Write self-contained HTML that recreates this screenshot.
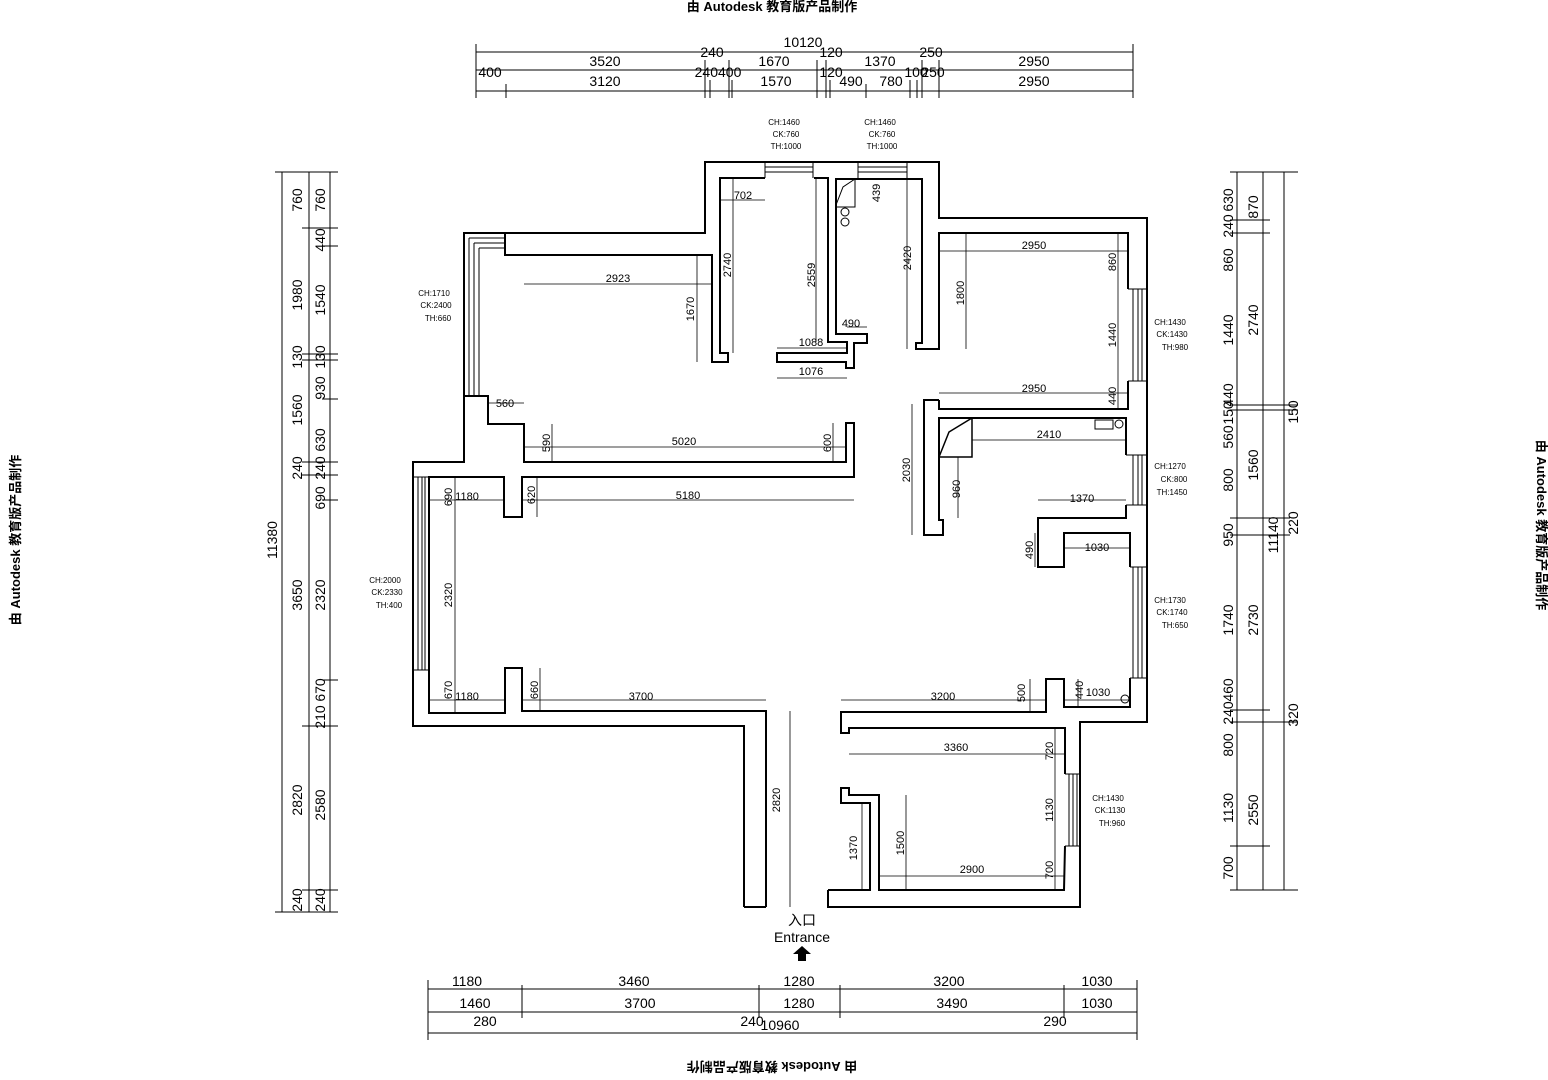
<!DOCTYPE html>
<html><head><meta charset="utf-8"><style>
html,body{margin:0;padding:0;background:#fff}
svg{display:block}
text{font-family:"Liberation Sans Narrow","Liberation Sans",sans-serif;fill:#000}
.d{font-size:14px}
.s{font-size:11px}
.t{font-size:8px;font-family:"Liberation Serif",serif}
.w{font-size:13px;font-weight:bold;font-family:"Liberation Sans","Noto Sans CJK SC",sans-serif}
</style></head><body>
<svg width="1548" height="1080" viewBox="0 0 1548 1080" xmlns="http://www.w3.org/2000/svg">
<rect width="1548" height="1080" fill="#fff"/>
<!-- watermarks -->
<text class="w" x="772" y="11" text-anchor="middle">由 Autodesk 教育版产品制作</text>
<text class="w" transform="translate(20,540) rotate(-90)" text-anchor="middle">由 Autodesk 教育版产品制作</text>
<text class="w" transform="translate(1537,525) rotate(90)" text-anchor="middle">由 Autodesk 教育版产品制作</text>
<text class="w" transform="translate(772,1062) rotate(180)" text-anchor="middle">由 Autodesk 教育版产品制作</text>

<g fill="none" stroke="#000" stroke-width="2">
<!-- outer boundary -->
<path d="M744,907 L744,726 L413,726 L413,462 L464,462 L464,233 L705,233 L705,162 L939,162 L939,218 L1147,218 L1147,722 L1080,722 L1080,907 L828,907 L828,890"/>
<path d="M744,907 L766,907"/>
<!-- living inner -->
<path d="M766,907 L766,711 L522,711 L522,668 L505,668 L505,713 L429,713 L429,477 L504,477 L504,517 L522,517 L522,477 L854,477 L854,423 L846,423 L846,462 L524,462 L524,424 L488,424 L488,396 L464,396"/>
<!-- top-left bedroom -->
<path d="M505,233 L505,255 L712,255 L712,362 L728,362 L728,353 L720,353 L720,178 L765,178"/>
<!-- bathroom -->
<path d="M814,178 L828,178 L828,342 L847,342 L847,353 L777,353 L777,362 L846,362 L846,368 L854,368 L854,343 L867,343 L867,334 L836,334 L836,179 L858,179"/>
<path d="M858,179 L922,179 L922,343 L916,343 L916,349 L939,349 L939,233 L1128,233 L1128,289"/>
<!-- right room bottom wall / kitchen -->
<path d="M1128,381 L1128,409 L939,409 L939,400"/>
<path d="M939,400 L924,400 L924,535 L943,535 L943,520 L939,520 L939,418 L1126,418 L1126,455"/>
<path d="M1126,505 L1126,518 L1038,518 L1038,567 L1064,567 L1064,533 L1130,533 L1130,567"/>
<path d="M1130,678 L1130,707 L1064,707 L1064,679 L1046,679 L1046,712 L841,712 L841,733 L849,733 L849,728 L1065,728 L1065,774"/>
<path d="M1065,846 L1064,890 L879,890 L879,795 L849,795 L849,788 L841,788 L841,803 L870,803 L870,890 L828,890"/>
</g>
<!-- windows -->
<g fill="none" stroke="#000" stroke-width="1">
<path d="M765,162 V178 M813,162 V178 M765,167 H813 M765,172 H813"/>
<path d="M858,162 V178 M907,162 V178 M858,167 H907 M858,172 H907"/>
<path d="M469,238 H505 M474,243 H505 M469,238 V396 M474,243 V396 M479,248 V396 M479,248 H505"/>
<path d="M413,477 H429 M413,670 H429 M418,477 V670 M422,477 V670 M425,477 V670"/>
<path d="M1128,289 H1147 M1128,381 H1147 M1133,289 V381 M1138,289 V381 M1142,289 V381"/>
<path d="M1126,455 H1147 M1126,505 H1147 M1133,455 V505 M1138,455 V505 M1142,455 V505"/>
<path d="M1130,567 H1147 M1130,678 H1147 M1133,567 V678 M1138,567 V678 M1142,567 V678"/>
<path d="M1065,774 H1080 M1065,846 H1080 M1069,774 V846 M1073,774 V846 M1077,774 V846"/>
<!-- fixtures -->
<path d="M836,179 H855 V207 H836 Z M836,205 L843,187 L855,179"/>
<circle cx="845" cy="212" r="4"/><circle cx="845" cy="222" r="4"/>
<path d="M939,418 H972 V457 H939 Z M939,457 L949,432 L972,418" stroke-width="1.5"/>
<rect x="1095" y="420" width="18" height="9"/><circle cx="1119" cy="424" r="4"/>
<circle cx="1125" cy="699" r="4"/>
</g>
<!-- inner dimension lines -->
<g stroke="#000" stroke-width="0.8" fill="none">
<path d="M524,284 H712 M697,255 V362 M733,178 V353 M720,200 H765 M816,178 V342 M907,179 V349 M847,327 H867 M777,348 H847 M777,378 H847"/>
<path d="M939,251 H1128 M966,233 V349 M1118,233 V382 M939,393 H1128 M1118,382 V409"/>
<path d="M972,440 H1126 M958,457 V518 M912,404 V535 M1038,500 H1126 M1035,533 V567 M1064,548 H1130"/>
<path d="M524,447 V462 M524,447 H846 M552,424 V462 M833,423 V462 M488,403 H524"/>
<path d="M522,500 H854 M537,477 V517 M429,500 H504 M455,477 V520 M455,520 V713 M455,713 V668 M429,700 H505 M522,700 H766 M540,668 V711 M790,711 V907"/>
<path d="M841,700 H1046 M1030,679 V712 M1064,700 H1130 M1078,679 V707 M849,754 H1065 M1055,728 V774 M1055,774 V846 M1055,846 V890 M879,876 H1064 M906,795 V890 M862,803 V890"/>
</g>
<!-- inner dim labels -->
<g class="s">
<text x="743" y="199" text-anchor="middle">702</text>
<text x="618" y="282" text-anchor="middle">2923</text>
<text transform="translate(694,309) rotate(-90)" text-anchor="middle">1670</text>
<text transform="translate(731,265) rotate(-90)" text-anchor="middle">2740</text>
<text transform="translate(815,275) rotate(-90)" text-anchor="middle">2559</text>
<text transform="translate(880,193) rotate(-90)" text-anchor="middle">439</text>
<text transform="translate(911,258) rotate(-90)" text-anchor="middle">2420</text>
<text x="851" y="327" text-anchor="middle">490</text>
<text x="811" y="346" text-anchor="middle">1088</text>
<text x="811" y="375" text-anchor="middle">1076</text>
<text x="1034" y="249" text-anchor="middle">2950</text>
<text transform="translate(964,293) rotate(-90)" text-anchor="middle">1800</text>
<text transform="translate(1116,262) rotate(-90)" text-anchor="middle">860</text>
<text transform="translate(1116,335) rotate(-90)" text-anchor="middle">1440</text>
<text x="1034" y="392" text-anchor="middle">2950</text>
<text transform="translate(1116,396) rotate(-90)" text-anchor="middle">440</text>
<text x="1049" y="438" text-anchor="middle">2410</text>
<text transform="translate(910,470) rotate(-90)" text-anchor="middle">2030</text>
<text transform="translate(960,489) rotate(-90)" text-anchor="middle">960</text>
<text x="1082" y="502" text-anchor="middle">1370</text>
<text transform="translate(1033,550) rotate(-90)" text-anchor="middle">490</text>
<text x="1097" y="551" text-anchor="middle">1030</text>
<text x="505" y="407" text-anchor="middle">560</text>
<text transform="translate(550,443) rotate(-90)" text-anchor="middle">590</text>
<text x="684" y="445" text-anchor="middle">5020</text>
<text transform="translate(831,443) rotate(-90)" text-anchor="middle">600</text>
<text x="467" y="500" text-anchor="middle">1180</text>
<text transform="translate(452,497) rotate(-90)" text-anchor="middle">690</text>
<text transform="translate(535,495) rotate(-90)" text-anchor="middle">620</text>
<text x="688" y="499" text-anchor="middle">5180</text>
<text transform="translate(452,595) rotate(-90)" text-anchor="middle">2320</text>
<text transform="translate(452,690) rotate(-90)" text-anchor="middle">670</text>
<text x="467" y="700" text-anchor="middle">1180</text>
<text transform="translate(538,690) rotate(-90)" text-anchor="middle">660</text>
<text x="641" y="700" text-anchor="middle">3700</text>
<text transform="translate(780,800) rotate(-90)" text-anchor="middle">2820</text>
<text x="943" y="700" text-anchor="middle">3200</text>
<text transform="translate(1025,693) rotate(-90)" text-anchor="middle">500</text>
<text transform="translate(1083,690) rotate(-90)" text-anchor="middle">440</text>
<text x="1098" y="696" text-anchor="middle">1030</text>
<text x="956" y="751" text-anchor="middle">3360</text>
<text transform="translate(1053,751) rotate(-90)" text-anchor="middle">720</text>
<text transform="translate(1053,810) rotate(-90)" text-anchor="middle">1130</text>
<text transform="translate(1053,870) rotate(-90)" text-anchor="middle">700</text>
<text x="972" y="873" text-anchor="middle">2900</text>
<text transform="translate(904,843) rotate(-90)" text-anchor="middle">1500</text>
<text transform="translate(857,848) rotate(-90)" text-anchor="middle">1370</text>
</g>
<!-- window annotations -->
<g class="t" text-anchor="middle">
<text x="784" y="125">CH:1460</text><text x="786" y="137">CK:760</text><text x="786" y="149">TH:1000</text>
<text x="880" y="125">CH:1460</text><text x="882" y="137">CK:760</text><text x="882" y="149">TH:1000</text>
<text x="434" y="296">CH:1710</text><text x="436" y="308">CK:2400</text><text x="438" y="321">TH:660</text>
<text x="1170" y="325">CH:1430</text><text x="1172" y="337">CK:1430</text><text x="1175" y="350">TH:980</text>
<text x="1170" y="469">CH:1270</text><text x="1174" y="482">CK:800</text><text x="1172" y="495">TH:1450</text>
<text x="1170" y="603">CH:1730</text><text x="1172" y="615">CK:1740</text><text x="1175" y="628">TH:650</text>
<text x="1108" y="801">CH:1430</text><text x="1110" y="813">CK:1130</text><text x="1112" y="826">TH:960</text>
<text x="385" y="583">CH:2000</text><text x="387" y="595">CK:2330</text><text x="389" y="608">TH:400</text>
</g>
<!-- entrance -->
<text x="802" y="925" text-anchor="middle" style="font-size:14px;font-family:'Liberation Sans','Noto Sans CJK SC',sans-serif">入口</text>
<text x="802" y="942" text-anchor="middle" style="font-size:14px;font-family:'Liberation Sans',sans-serif">Entrance</text>
<path d="M802,946 L811,954 L806,954 L806,961 L798,961 L798,954 L793,954 Z" fill="#000"/>

<!-- outer dimension chains -->
<g stroke="#000" stroke-width="1" fill="none">
<path d="M476,52 H1133 M476,70 H1133 M476,91 H1133"/>
<path d="M476,44 V98 M1133,44 V98 M705,60 V98 M729,60 V98 M817,60 V98 M826,60 V98 M922,60 V98 M939,60 V98 M506,84 V98 M710,80 V98 M732,80 V98 M830,80 V98 M866,84 V98 M910,80 V98 M917,80 V98"/>
<path d="M282,172 V912 M309,172 V912 M330,172 V912 M275,172 H338 M275,912 H338 M302,228 H338 M302,354 H338 M302,360 H338 M302,462 H338 M302,475 H338 M302,726 H338 M302,890 H338 M322,246 H338 M322,399 H338 M322,500 H338 M322,680 H338"/>
<path d="M1237,172 V890 M1263,172 V890 M1284,172 V890 M1230,172 H1298 M1230,890 H1298 M1230,220 H1270 M1230,233 H1270 M1230,405 H1298 M1230,410 H1298 M1230,518 H1290 M1230,535 H1290 M1230,722 H1298 M1230,710 H1270 M1230,846 H1270"/>
<path d="M428,989 H1137 M428,1012 H1137 M428,1033 H1137 M428,980 V1040 M1137,980 V1040 M522,985 V1018 M759,985 V1018 M840,985 V1018 M1064,985 V1018"/>
</g>
<g class="d" text-anchor="middle">
<text x="803" y="47">10120</text>
<text x="605" y="66">3520</text><text x="712" y="57">240</text><text x="774" y="66">1670</text><text x="831" y="57">120</text><text x="880" y="66">1370</text><text x="931" y="57">250</text><text x="1034" y="66">2950</text>
<text x="490" y="77">400</text><text x="605" y="86">3120</text><text x="718" y="77">240400</text><text x="776" y="86">1570</text><text x="831" y="77">120</text><text x="851" y="86">490</text><text x="891" y="86">780</text><text x="916" y="77">100</text><text x="933" y="77">250</text><text x="1034" y="86">2950</text>
<text x="467" y="986">1180</text><text x="634" y="986">3460</text><text x="799" y="986">1280</text><text x="949" y="986">3200</text><text x="1097" y="986">1030</text>
<text x="475" y="1008">1460</text><text x="640" y="1008">3700</text><text x="799" y="1008">1280</text><text x="952" y="1008">3490</text><text x="1097" y="1008">1030</text>
<text x="485" y="1026">280</text><text x="752" y="1026">240</text><text x="780" y="1030">10960</text><text x="1055" y="1026">290</text>
</g>
<g class="d" text-anchor="middle">
<g transform="translate(302,0)">
<text transform="translate(0,200) rotate(-90)">760</text><text transform="translate(0,295) rotate(-90)">1980</text><text transform="translate(0,357) rotate(-90)">130</text><text transform="translate(0,410) rotate(-90)">1560</text><text transform="translate(0,468) rotate(-90)">240</text><text transform="translate(0,595) rotate(-90)">3650</text><text transform="translate(0,800) rotate(-90)">2820</text><text transform="translate(0,900) rotate(-90)">240</text>
</g>
<text transform="translate(277,540) rotate(-90)">11380</text>
<g transform="translate(325,0)">
<text transform="translate(0,200) rotate(-90)">760</text><text transform="translate(0,240) rotate(-90)">440</text><text transform="translate(0,300) rotate(-90)">1540</text><text transform="translate(0,357) rotate(-90)">130</text><text transform="translate(0,388) rotate(-90)">930</text><text transform="translate(0,440) rotate(-90)">630</text><text transform="translate(0,468) rotate(-90)">240</text><text transform="translate(0,498) rotate(-90)">690</text><text transform="translate(0,595) rotate(-90)">2320</text><text transform="translate(0,690) rotate(-90)">670</text><text transform="translate(0,717) rotate(-90)">210</text><text transform="translate(0,805) rotate(-90)">2580</text><text transform="translate(0,900) rotate(-90)">240</text>
</g>
<g transform="translate(1233,0)">
<text transform="translate(0,200) rotate(-90)">630</text><text transform="translate(0,226) rotate(-90)">240</text><text transform="translate(0,260) rotate(-90)">860</text><text transform="translate(0,330) rotate(-90)">1440</text><text transform="translate(0,395) rotate(-90)">440</text><text transform="translate(0,413) rotate(-90)">150</text><text transform="translate(0,437) rotate(-90)">560</text><text transform="translate(0,480) rotate(-90)">800</text><text transform="translate(0,535) rotate(-90)">950</text><text transform="translate(0,620) rotate(-90)">1740</text><text transform="translate(0,690) rotate(-90)">460</text><text transform="translate(0,713) rotate(-90)">240</text><text transform="translate(0,745) rotate(-90)">800</text><text transform="translate(0,808) rotate(-90)">1130</text><text transform="translate(0,868) rotate(-90)">700</text>
</g>
<g transform="translate(1258,0)">
<text transform="translate(0,207) rotate(-90)">870</text><text transform="translate(0,320) rotate(-90)">2740</text><text transform="translate(0,465) rotate(-90)">1560</text><text transform="translate(0,620) rotate(-90)">2730</text><text transform="translate(0,810) rotate(-90)">2550</text>
</g>
<text transform="translate(1278,535) rotate(-90)">11140</text>
<g transform="translate(1298,0)">
<text transform="translate(0,412) rotate(-90)">150</text><text transform="translate(0,523) rotate(-90)">220</text><text transform="translate(0,715) rotate(-90)">320</text>
</g>
</g>
</svg>
</body></html>
